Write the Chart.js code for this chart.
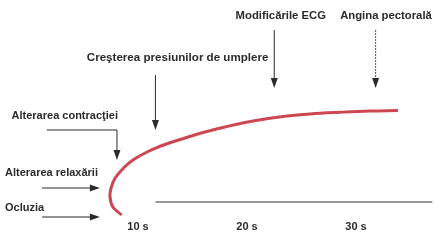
<!DOCTYPE html>
<html lang="ro">
<head>
<meta charset="UTF-8">
<title>Cascada ischemică</title>
<script src="https://cdn.jsdelivr.net/npm/chart.js"></script>
<style>
  body { margin: 0; background: #fff; }
  #wrap { width: 448px; height: 241px; }
</style>
</head>
<body>
<div id="wrap"><canvas id="chart"></canvas></div>
<script>
// curba (timp in secunde, nivel in unitati arbitrare)
const curveTime  = [8.50, 7.68, 7.43, 7.52, 7.89, 8.65, 9.54, 10.92, 12.48, 14.31, 16.15, 17.98, 19.82, 21.65, 23.49, 25.78, 28.53, 31.28, 33.85];
const curveLevel = [-6.5, -2.35, 2.65, 6.85, 11.85, 16.85, 21.0, 25.25, 28.75, 32.0, 35.0, 37.5, 39.75, 41.5, 42.85, 44.0, 44.85, 45.5, 45.75];

// linia de baza
const baseTime  = [11.6, 37.0];
const baseLevel = [0, 0];

// axa timpului
const tickSeconds = [10, 20, 30];
const tickLabels  = ['10 s', '20 s', '30 s'];

// evenimente de sus (etichete cu sageti verticale)
const eventLabels = ['Creşterea presiunilor de umplere', 'Modificările ECG', 'Angina pectorală'];
const eventTime   = [11.6, 22.5, 31.8];

// evenimente din stanga
const sideLabels = ['Alterarea contracţiei', 'Alterarea relaxării', 'Ocluzia'];

const toPoints = (xs, ys) => xs.map((v, i) => ({ x: v, y: ys[i] }));

const FAMILY = '"Liberation Sans", Arial, sans-serif';
const INK = '#2b2b2b';

function head(ctx, x, y, dir) {
  ctx.beginPath();
  if (dir === 'down') {
    ctx.moveTo(x, y); ctx.lineTo(x - 3.5, y - 10); ctx.lineTo(x + 3.5, y - 10);
  } else {
    ctx.moveTo(x, y); ctx.lineTo(x - 10, y - 3.5); ctx.lineTo(x - 10, y + 3.5);
  }
  ctx.closePath();
  ctx.fill();
}

// etichete si sageti
const labelsPlugin = {
  id: 'labels',
  afterDatasetsDraw(chart) {
    const ctx = chart.ctx;
    const X = v => chart.scales.x.getPixelForValue(v);
    const Y = v => chart.scales.y.getPixelForValue(v);
    ctx.save();
    ctx.fillStyle = INK;
    ctx.strokeStyle = INK;
    ctx.lineWidth = 1;
    ctx.textBaseline = 'middle';

    // sus
    ctx.font = 'bold 11.6px ' + FAMILY;
    ctx.textAlign = 'left';
    ctx.fillText(eventLabels[0], X(5.3), Y(72));
    ctx.font = 'bold 11.3px ' + FAMILY;
    ctx.textAlign = 'center';
    ctx.fillText(eventLabels[1], X(23.1), Y(93));
    ctx.fillText(eventLabels[2], X(32.75), Y(93));

    [[eventTime[0], 63.5, 36], [eventTime[1], 86, 57], [eventTime[2], 86, 57]].forEach((a, i) => {
      ctx.setLineDash(i === 2 ? [2, 1] : []);
      ctx.strokeStyle = i === 2 ? '#555' : INK;
      ctx.beginPath();
      ctx.moveTo(X(a[0]), Y(a[1]));
      ctx.lineTo(X(a[0]), Y(a[2]) - 8);
      ctx.stroke();
      ctx.setLineDash([]);
      head(ctx, X(a[0]), Y(a[2]), 'down');
    });
    ctx.strokeStyle = INK;

    // stanga
    ctx.font = 'bold 11px ' + FAMILY;
    ctx.textAlign = 'left';
    ctx.fillText(sideLabels[0], X(-1.6), Y(43));
    ctx.fillText(sideLabels[1], X(-2.2), Y(14.5));
    ctx.fillText(sideLabels[2], X(-2.2), Y(-3));

    ctx.beginPath();
    ctx.moveTo(X(1.65), Y(36));
    ctx.lineTo(X(8.07), Y(36));
    ctx.lineTo(X(8.07), Y(21) - 8);
    ctx.stroke();
    head(ctx, X(8.07), Y(21), 'down');

    [7, -7.5].forEach(v => {
      ctx.beginPath();
      ctx.moveTo(X(1.2), Y(v));
      ctx.lineTo(X(6.5) - 8, Y(v));
      ctx.stroke();
      head(ctx, X(6.5), Y(v), 'right');
    });
    ctx.restore();
  }
};

new Chart(document.getElementById('chart'), {
  type: 'scatter',
  data: {
    datasets: [
      {
        data: toPoints(curveTime, curveLevel),
        showLine: true,
        borderColor: '#cd4753',
        borderWidth: 3,
        tension: 0.4,
        pointRadius: 0,
        clip: false
      },
      {
        data: toPoints(baseTime, baseLevel),
        showLine: true,
        borderColor: '#333',
        borderWidth: 1.2,
        pointRadius: 0,
        clip: false
      }
    ]
  },
  options: {
    responsive: true,
    maintainAspectRatio: false,
    animation: false,
    layout: { padding: 0 },
    plugins: { legend: { display: false }, tooltip: { enabled: false } },
    scales: {
      x: {
        type: 'linear',
        min: -2.66,
        max: 38.44,
        grid: { display: false, drawTicks: false },
        border: { display: false },
        afterBuildTicks: scale => { scale.ticks = tickSeconds.map(v => ({ value: v })); },
        ticks: {
          autoSkip: false,
          maxRotation: 0,
          padding: 7.4,
          color: INK,
          font: { family: FAMILY, size: 11, weight: 'bold' },
          callback: (v, i) => tickLabels[i]
        }
      },
      y: {
        display: false,
        min: -5.5,
        max: 101
      }
    }
  },
  plugins: [labelsPlugin]
});
</script>
</body>
</html>
